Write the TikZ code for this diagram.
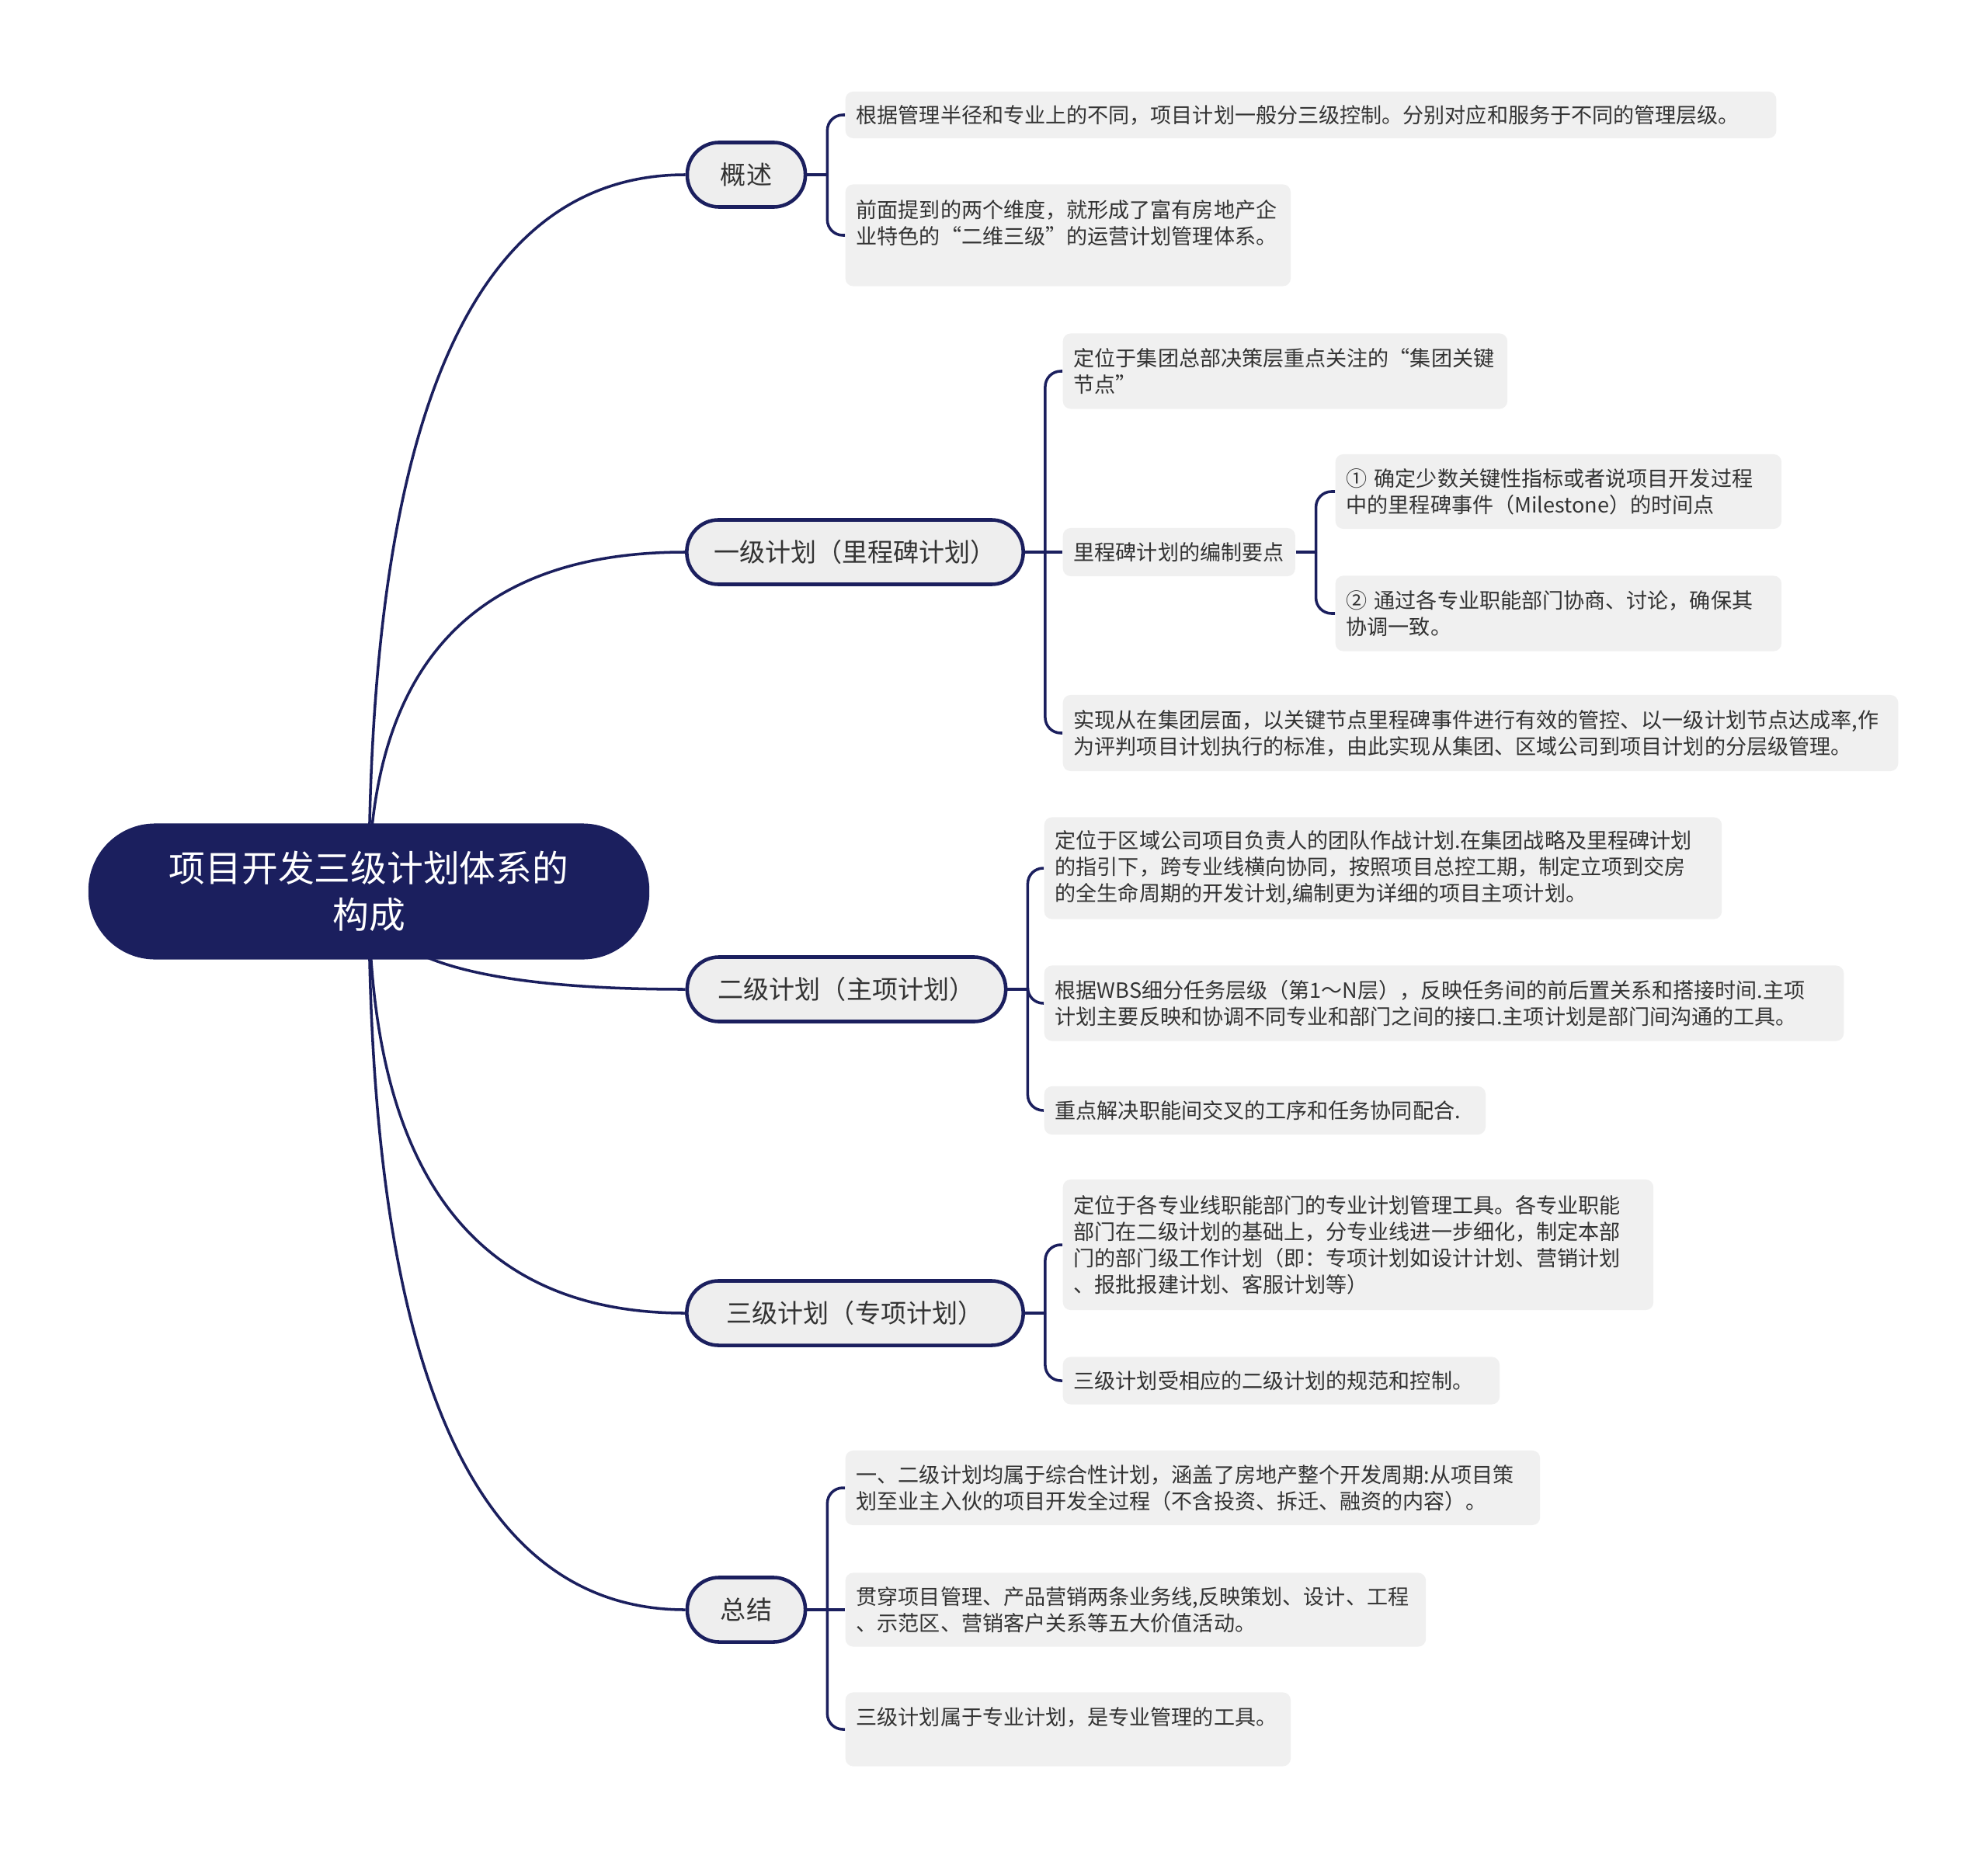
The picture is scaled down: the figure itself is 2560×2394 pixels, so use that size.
\documentclass[tikz,border=0pt]{standalone}
\usepackage{fontspec}
\setmainfont{Noto Sans CJK SC}
\usepackage{tikz}
\usetikzlibrary{positioning,calc,backgrounds}
\definecolor{mynavy}{HTML}{1B1F5E}
\definecolor{mytopic}{HTML}{EEEEEE}
\definecolor{myleaf}{HTML}{F0F0F0}
\definecolor{mytext}{HTML}{333333}
\tikzset{
  rootbox/.style={fill=mynavy,text=white,rounded corners=0.86cm,minimum width=7.22cm,minimum height=1.75cm,align=center,font=\fontsize{13.3}{17.1}\selectfont},
  topicbox/.style={draw=mynavy,line width=1.3pt,fill=mytopic,text=mytext,rounded corners=0.41cm,minimum width=#1,minimum height=0.83cm,font=\fontsize{9.4}{11}\selectfont},
  leafbox/.style 2 args={fill=myleaf,text=mytext,rounded corners=0.1cm,anchor=west,text width=#1,minimum height=#2,inner xsep=0.14cm,inner ysep=0.05cm,align=left,font=\fontsize{7.7}{9.67}\selectfont},
}
\begin{document}
\begin{tikzpicture}[
    x=0.01cm,y=-0.01cm,
    link/.style={draw=mynavy,line width=1pt},
    fork/.style={link,rounded corners=0.2cm},
  ]
  \useasboundingbox (0,0) rectangle (2560,2394);

  % centre and main branches
  \node[rootbox] (root) at (475,1148) {项目开发三级计划体系的\\构成};
  \node[topicbox=1.52cm] (gaishu) at (961,225) {概述};
  \node[topicbox=4.33cm] (yiji) at (1101,711) {一级计划（里程碑计划）};
  \node[topicbox=4.10cm] (erji) at (1090,1274) {二级计划（主项计划）};
  \node[topicbox=4.33cm] (sanji) at (1101,1691) {三级计划（专项计划）};
  \node[topicbox=1.52cm] (zongjie) at (961,2073) {总结};

  % 概述
  \node[leafbox={11.70cm}{0.60cm}] (gsA) at (1088,148) {根据管理半径和专业上的不同，项目计划一般分三级控制。分别对应和服务于不同的管理层级。};
  \node[leafbox={5.45cm}{1.31cm}] (gsB) at (1088,303) {前面提到的两个维度，就形成了富有房地产企\\业特色的“二维三级”的运营计划管理体系。\\ \mbox{}};

  % 一级计划
  \node[leafbox={5.44cm}{0.97cm}] (yjA) at (1368,478) {定位于集团总部决策层重点关注的“集团关键\\节点”};
  \node[leafbox={2.71cm}{0.62cm}] (yjB) at (1368,711) {里程碑计划的编制要点};
  \node[leafbox={5.46cm}{0.96cm}] (yjB1) at (1719,633) {① 确定少数关键性指标或者说项目开发过程\\中的里程碑事件（Milestone）的时间点};
  \node[leafbox={5.46cm}{0.97cm}] (yjB2) at (1719,790) {② 通过各专业职能部门协商、讨论，确保其\\协调一致。};
  \node[leafbox={10.47cm}{0.98cm}] (yjC) at (1368,944) {实现从在集团层面，以关键节点里程碑事件进行有效的管控、以一级计划节点达成率,作\\为评判项目计划执行的标准，由此实现从集团、区域公司到项目计划的分层级管理。};

  % 二级计划
  \node[leafbox={8.44cm}{1.31cm}] (ejA) at (1344,1118) {定位于区域公司项目负责人的团队作战计划.在集团战略及里程碑计划\\的指引下，跨专业线横向协同，按照项目总控工期，制定立项到交房\\的全生命周期的开发计划,编制更为详细的项目主项计划。};
  \node[leafbox={10.01cm}{0.97cm}] (ejB) at (1344,1292) {根据WBS细分任务层级（第1～N层），反映任务间的前后置关系和搭接时间.主项\\计划主要反映和协调不同专业和部门之间的接口.主项计划是部门间沟通的工具。};
  \node[leafbox={5.40cm}{0.62cm}] (ejC) at (1344,1430) {重点解决职能间交叉的工序和任务协同配合.};

  % 三级计划
  \node[leafbox={7.32cm}{1.68cm}] (sjA) at (1368,1603) {定位于各专业线职能部门的专业计划管理工具。各专业职能\\部门在二级计划的基础上，分专业线进一步细化，制定本部\\门的部门级工作计划（即：专项计划如设计计划、营销计划\\、报批报建计划、客服计划等）};
  \node[leafbox={5.34cm}{0.61cm}] (sjB) at (1368,1778) {三级计划受相应的二级计划的规范和控制。};

  % 总结
  \node[leafbox={8.66cm}{0.96cm}] (zjA) at (1088,1916) {一、二级计划均属于综合性计划，涵盖了房地产整个开发周期:从项目策\\划至业主入伙的项目开发全过程（不含投资、拆迁、融资的内容）。};
  \node[leafbox={7.19cm}{0.95cm}] (zjB) at (1088,2073) {贯穿项目管理、产品营销两条业务线,反映策划、设计、工程\\、示范区、营销客户关系等五大价值活动。};
  \node[leafbox={5.45cm}{0.95cm}] (zjC) at (1088,2227) {三级计划属于专业计划，是专业管理的工具。\\ \mbox{}};

  % fork points
  \coordinate (gaishu-fork) at ([xshift=0.26cm]gaishu.east);
  \coordinate (yiji-fork) at ([xshift=0.26cm]yiji.east);
  \coordinate (yjB-fork) at ([xshift=0.26cm]yjB.east);
  \coordinate (erji-fork) at ([xshift=0.26cm]erji.east);
  \coordinate (sanji-fork) at ([xshift=0.26cm]sanji.east);
  \coordinate (zongjie-fork) at ([xshift=0.26cm]zongjie.east);

  \begin{scope}[on background layer]
    \fill[white] (0,0) rectangle (2560,2394);
    % curves out of the centre
    \draw[link] (root.center) .. controls ($(root.center)!0.667!(root.center |- gaishu.west)$) and ($(gaishu.west)!0.667!(root.center |- gaishu.west)$) .. (gaishu.west);
    \draw[link] (root.center) .. controls ($(root.center)!0.667!(root.center |- yiji.west)$) and ($(yiji.west)!0.667!(root.center |- yiji.west)$) .. (yiji.west);
    \draw[link] (root.center) .. controls ($(root.center)!0.667!(root.center |- erji.west)$) and ($(erji.west)!0.667!(root.center |- erji.west)$) .. (erji.west);
    \draw[link] (root.center) .. controls ($(root.center)!0.667!(root.center |- sanji.west)$) and ($(sanji.west)!0.667!(root.center |- sanji.west)$) .. (sanji.west);
    \draw[link] (root.center) .. controls ($(root.center)!0.667!(root.center |- zongjie.west)$) and ($(zongjie.west)!0.667!(root.center |- zongjie.west)$) .. (zongjie.west);

    % brackets
    \draw[link] (gaishu.east) -- (gaishu-fork);
    \draw[fork] (gaishu-fork) |- (gsA.west);
    \draw[fork] (gaishu-fork) |- (gsB.west);

    \draw[link] (yiji.east) -- (yiji-fork);
    \draw[fork] (yiji-fork) |- (yjA.west);
    \draw[link] (yiji-fork) -- (yjB.west);
    \draw[fork] (yiji-fork) |- (yjC.west);
    \draw[link] (yjB.east) -- (yjB-fork);
    \draw[fork] (yjB-fork) |- (yjB1.west);
    \draw[fork] (yjB-fork) |- (yjB2.west);

    \draw[link] (erji.east) -- (erji-fork);
    \draw[fork] (erji-fork) |- (ejA.west);
    \draw[fork] (erji-fork) |- (ejB.west);
    \draw[fork] (erji-fork) |- (ejC.west);

    \draw[link] (sanji.east) -- (sanji-fork);
    \draw[fork] (sanji-fork) |- (sjA.west);
    \draw[fork] (sanji-fork) |- (sjB.west);

    \draw[link] (zongjie.east) -- (zongjie-fork);
    \draw[fork] (zongjie-fork) |- (zjA.west);
    \draw[link] (zongjie-fork) -- (zjB.west);
    \draw[fork] (zongjie-fork) |- (zjC.west);
  \end{scope}
\end{tikzpicture}
\end{document}
